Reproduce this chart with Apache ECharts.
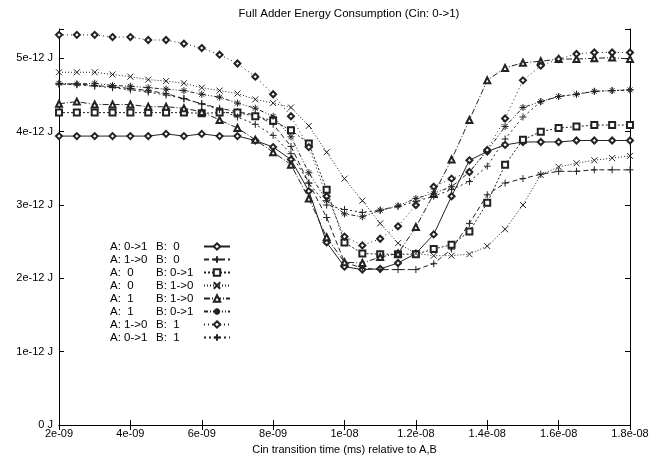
<!DOCTYPE html>
<html>
<head>
<meta charset="utf-8">
<script src="https://cdn.jsdelivr.net/npm/echarts@6/dist/echarts.min.js"></script>
<style>
  html, body { margin: 0; padding: 0; background: #fff; }
  #chart { width: 652px; height: 460px; }
</style>
</head>
<body>
<div id="chart"></div>
<script>
// x in units of 1e-9 s, y in units of 1e-12 J
var xValues = [2, 2.5, 3, 3.5, 4, 4.5, 5, 5.5, 6, 6.5, 7, 7.5, 8, 8.5, 9, 9.5, 10,
  10.5, 11, 11.5, 12, 12.5, 13, 13.5, 14, 14.5, 15, 15.5, 16, 16.5, 17, 17.5, 18];
var xTickLabels = ['2e-09', '4e-09', '6e-09', '8e-09', '1e-08', '1.2e-08', '1.4e-08', '1.6e-08', '1.8e-08'];
var yTickLabels = ['0 J', '1e-12 J', '2e-12 J', '3e-12 J', '4e-12 J', '5e-12 J'];

var seriesNames = [
  'A: 0->1|B:  0',
  'A: 1->0|B:  0',
  'A:  0|B: 0->1',
  'A:  0|B: 1->0',
  'A:  1|B: 1->0',
  'A:  1|B: 0->1',
  'A: 1->0|B:  1',
  'A: 0->1|B:  1'
];

var a01b0 = [3.94, 3.94, 3.94, 3.94, 3.94, 3.94, 3.97, 3.94, 3.97, 3.94, 3.94, 3.88, 3.79, 3.62, 3.19, 2.49, 2.16,
  2.12, 2.13, 2.21, 2.34, 2.60, 3.12, 3.61, 3.73, 3.82, 3.86, 3.86, 3.86, 3.88, 3.88, 3.88, 3.88];
var a10b0 = [4.65, 4.65, 4.63, 4.61, 4.59, 4.56, 4.52, 4.45, 4.38, 4.32, 4.27, 4.23, 4.10, 3.80, 3.30, 2.83, 2.22,
  2.14, 2.12, 2.12, 2.12, 2.20, 2.40, 2.75, 3.14, 3.30, 3.36, 3.42, 3.46, 3.46, 3.48, 3.48, 3.48];
var a0b01 = [4.26, 4.26, 4.26, 4.26, 4.26, 4.26, 4.26, 4.26, 4.25, 4.26, 4.26, 4.21, 4.15, 4.02, 3.84, 3.21, 2.49,
  2.34, 2.33, 2.33, 2.33, 2.40, 2.46, 2.64, 3.03, 3.55, 3.89, 4.00, 4.05, 4.07, 4.09, 4.09, 4.09];
var a0b10 = [4.81, 4.81, 4.81, 4.78, 4.75, 4.71, 4.69, 4.66, 4.60, 4.56, 4.52, 4.44, 4.39, 4.33, 4.08, 3.72, 3.36,
  3.06, 2.75, 2.48, 2.34, 2.31, 2.31, 2.33, 2.44, 2.67, 3.00, 3.41, 3.52, 3.57, 3.61, 3.64, 3.67];
var a1b10 = [4.38, 4.41, 4.37, 4.37, 4.37, 4.34, 4.34, 4.32, 4.27, 4.16, 4.05, 3.89, 3.72, 3.55, 3.09, 2.56, 2.22,
  2.21, 2.29, 2.34, 2.70, 3.15, 3.62, 4.16, 4.70, 4.87, 4.94, 4.96, 4.99, 4.99, 5.00, 5.01, 4.99];
var a1b01 = [4.66, 4.65, 4.66, 4.63, 4.62, 4.60, 4.58, 4.56, 4.51, 4.47, 4.39, 4.32, 4.21, 3.93, 3.44, 3.06, 2.88,
  2.84, 2.93, 2.99, 3.09, 3.16, 3.25, 3.45, 3.74, 4.07, 4.33, 4.41, 4.48, 4.51, 4.55, 4.56, 4.57];
var a10b1 = [5.32, 5.32, 5.32, 5.29, 5.29, 5.25, 5.25, 5.20, 5.14, 5.05, 4.93, 4.75, 4.51, 4.21, 3.79, 3.12, 2.57,
  2.45, 2.54, 2.71, 3.00, 3.25, 3.36, 3.45, 3.75, 4.18, 4.70, 4.90, 4.99, 5.06, 5.08, 5.08, 5.08];
var a01b1 = [4.65, 4.64, 4.62, 4.60, 4.57, 4.54, 4.50, 4.45, 4.38, 4.30, 4.20, 4.10, 3.95, 3.70, 3.30, 3.00, 2.94,
  2.90, 2.93, 2.98, 3.05, 3.12, 3.21, 3.32, 3.53, 3.90, 4.20, 4.41, 4.48, 4.51, 4.55, 4.56, 4.57];

var allValues = [a01b0, a10b0, a0b01, a0b10, a1b10, a1b01, a10b1, a01b1];

var plusPath = 'path://M0,5L10,5M5,0L5,10';
var crossPath = 'path://M0,0L10,10M10,0L0,10';
var starPath = 'path://M0,5L10,5M5,0L5,10M1.5,1.5L8.5,8.5M8.5,1.5L1.5,8.5';

var symbols = ['emptyDiamond', plusPath, 'emptyRect', crossPath, 'emptyTriangle', starPath, 'emptyDiamond', plusPath];
var symbolSizes = [6, 7, 6, 6, 6, 7, 6, 7];
var dashes = ['solid', [5, 3], [2, 2], [1, 2], [6, 2, 1, 2], [4, 2, 1, 2, 1, 2], [1, 3], [2, 3]];

var chart = echarts.init(document.getElementById('chart'));

var series = allValues.map(function (vals, i) {
  return {
    name: seriesNames[i],
    type: 'line',
    data: vals.map(function (v, j) { return [xValues[j], v]; }),
    symbol: symbols[i],
    symbolSize: symbolSizes[i],
    showSymbol: true,
    animation: false,
    lineStyle: { color: '#222', width: 1, type: dashes[i] },
    itemStyle: { color: '#222', borderColor: '#222', borderWidth: 1 }
  };
});

var font = 'Liberation Sans, Arial, sans-serif';

chart.setOption({
  backgroundColor: '#fff',
  animation: false,
  title: {
    text: 'Full Adder Energy Consumption (Cin: 0->1)',
    left: 344,
    top: 3,
    textAlign: 'center',
    textStyle: { fontFamily: font, fontSize: 11.5, fontWeight: 'normal', color: '#000' }
  },
  grid: { left: 59, right: 22, top: 29, bottom: 30 },
  legend: {
    orient: 'vertical',
    left: 110,
    top: 240,
    padding: 0,
    align: 'right',
    itemWidth: 26,
    itemHeight: 8,
    itemGap: 0,
    inactiveColor: '#222',
    data: seriesNames,
    formatter: function (name) {
      var p = name.split('|');
      return '{a|' + p[0] + '}{b|' + p[1] + '}';
    },
    textStyle: {
      fontFamily: font,
      fontSize: 11.5,
      color: '#000',
      lineHeight: 13,
      rich: {
        a: { width: 46, align: 'left', fontFamily: font, fontSize: 11.5, color: '#000', lineHeight: 13 },
        b: { width: 43, align: 'left', fontFamily: font, fontSize: 11.5, color: '#000', lineHeight: 13 }
      }
    }
  },
  xAxis: [{
    type: 'value',
    min: 2,
    max: 18,
    interval: 2,
    name: 'Cin transition time (ms) relative to A,B',
    nameLocation: 'middle',
    nameGap: 15,
    nameTextStyle: { fontFamily: font, fontSize: 11, color: '#000' },
    axisLine: { lineStyle: { color: '#000', width: 1 } },
    axisTick: { inside: true, length: 5, lineStyle: { color: '#000' } },
    axisLabel: {
      fontFamily: font, fontSize: 11, color: '#000', margin: 3,
      formatter: function (v) { return xTickLabels[Math.round((v - 2) / 2)]; }
    },
    splitLine: { show: false }
  }, {
    type: 'value',
    position: 'top',
    min: 2,
    max: 18,
    interval: 2,
    axisLine: { lineStyle: { color: '#000', width: 1 } },
    axisTick: { inside: true, length: 5, lineStyle: { color: '#000' } },
    axisLabel: { show: false },
    splitLine: { show: false }
  }],
  yAxis: [{
    type: 'value',
    min: 0,
    max: 5.4,
    interval: 1,
    axisLine: { show: true, lineStyle: { color: '#000', width: 1 } },
    axisTick: { show: true, inside: true, length: 5, lineStyle: { color: '#000' } },
    axisLabel: {
      fontFamily: font, fontSize: 11, color: '#000', margin: 6,
      formatter: function (v) {
        return Math.abs(v - Math.round(v)) < 1e-6 ? yTickLabels[Math.round(v)] : '';
      }
    },
    splitLine: { show: false }
  }, {
    type: 'value',
    position: 'right',
    min: 0,
    max: 5.4,
    interval: 1,
    axisLine: { show: true, lineStyle: { color: '#000', width: 1 } },
    axisTick: { show: true, inside: true, length: 5, lineStyle: { color: '#000' } },
    axisLabel: { show: false },
    splitLine: { show: false }
  }],
  series: series
});
</script>
</body>
</html>
